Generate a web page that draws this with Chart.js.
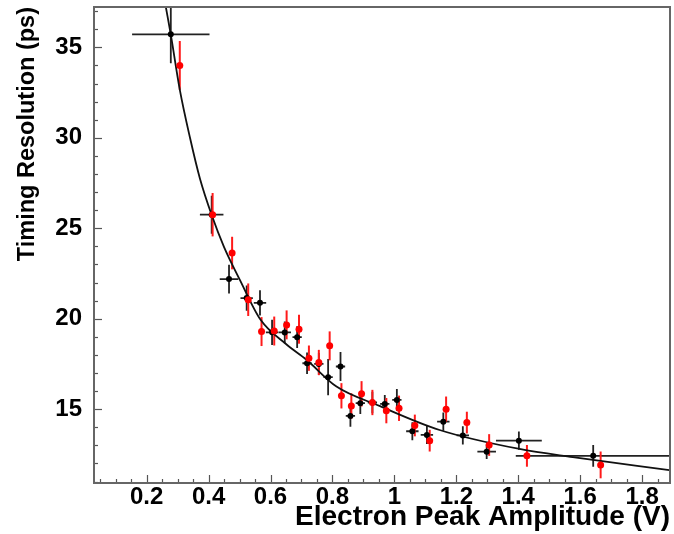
<!DOCTYPE html>
<html><head><meta charset="utf-8">
<script src="https://cdn.jsdelivr.net/npm/chart.js@4/dist/chart.umd.min.js"></script>
<style>html,body{margin:0;padding:0;background:#fff;}#wrap{width:674px;height:534px;}</style>
</head><body><div id="wrap"><canvas id="c" width="674" height="534"></canvas></div>
<script>
// ---- data ----
const blackX    = [0.278, 0.410, 0.466, 0.523, 0.566, 0.605, 0.646, 0.686, 0.718, 0.756, 0.786, 0.826, 0.858, 0.890, 0.929, 0.969, 1.008, 1.058, 1.105, 1.158, 1.221, 1.298, 1.402, 1.642];
const blackY    = [35.72, 25.75, 22.19, 21.14, 20.88, 19.25, 19.24, 18.98, 17.54, 17.50, 16.77, 17.36, 14.63, 15.33, 15.37, 15.29, 15.51, 13.78, 13.58, 14.31, 13.55, 12.65, 13.26, 12.42];
const blackXErr = [0.125, 0.038, 0.030, 0.020, 0.020, 0.020, 0.020, 0.015, 0.015, 0.015, 0.015, 0.015, 0.015, 0.015, 0.015, 0.015, 0.015, 0.020, 0.020, 0.020, 0.020, 0.030, 0.074, 0.250];
const blackYErr = [1.60, 1.05, 0.80, 0.70, 0.70, 0.70, 0.60, 0.60, 0.60, 0.60, 1.00, 0.80, 0.60, 0.60, 0.60, 0.50, 0.60, 0.50, 0.50, 0.50, 0.50, 0.40, 0.50, 0.60];

const redX    = [0.307, 0.413, 0.476, 0.528, 0.571, 0.612, 0.652, 0.692, 0.724, 0.756, 0.791, 0.829, 0.861, 0.894, 0.929, 0.974, 1.015, 1.066, 1.114, 1.167, 1.234, 1.306, 1.428, 1.666];
const redY    = [34.00, 25.75, 23.63, 21.05, 19.29, 19.32, 19.66, 19.42, 17.82, 17.58, 18.50, 15.74, 15.18, 15.85, 15.37, 14.92, 15.05, 14.10, 13.26, 15.00, 14.26, 13.02, 12.42, 11.92];
const redYErr = [1.35, 1.20, 0.90, 0.90, 0.80, 0.80, 0.80, 0.80, 0.70, 0.70, 0.80, 0.70, 0.70, 0.70, 0.70, 0.70, 0.70, 0.60, 0.60, 0.70, 0.60, 0.60, 0.60, 0.74];

const fitX = [0.262, 0.278, 0.307, 0.340, 0.372, 0.410, 0.450, 0.501, 0.568, 0.650, 0.716, 0.813, 0.952, 1.146, 1.404, 1.576, 1.888];
const fitY = [37.23, 35.70, 32.66, 30.00, 27.75, 25.73, 23.96, 22.15, 19.94, 18.60, 17.73, 16.25, 15.18, 13.85, 12.80, 12.35, 11.63];

const xTickValues = [0.2, 0.4, 0.6, 0.8, 1.0, 1.2, 1.4, 1.6, 1.8];
const xTickLabels = ['0.2', '0.4', '0.6', '0.8', '1', '1.2', '1.4', '1.6', '1.8'];
const yTickValues = [15, 20, 25, 30, 35];
const yTickLabels = ['15', '20', '25', '30', '35'];

const xTitle = 'Electron Peak Amplitude (V)';
const yTitle = 'Timing Resolution (ps)';

// ---- build datasets ----
const toPts = (xs, ys) => xs.map((x, i) => ({x: x, y: ys[i]}));

const errorBars = {
  id: 'errorBars',
  beforeDatasetsDraw(chart) {
    const {ctx, chartArea: a, scales: {x, y}} = chart;
    ctx.save();
    ctx.beginPath(); ctx.rect(a.left, a.top, a.right - a.left, a.bottom - a.top); ctx.clip();
    const draw = (xs, ys, xe, ye, color, w) => {
      ctx.strokeStyle = color; ctx.lineWidth = w;
      xs.forEach((xv, i) => {
        const px = x.getPixelForValue(xv), py = y.getPixelForValue(ys[i]);
        ctx.beginPath();
        if (ye) { ctx.moveTo(px, y.getPixelForValue(ys[i] + ye[i])); ctx.lineTo(px, y.getPixelForValue(ys[i] - ye[i])); }
        if (xe) { ctx.moveTo(x.getPixelForValue(xv - xe[i]), py); ctx.lineTo(x.getPixelForValue(xv + xe[i]), py); }
        ctx.stroke();
      });
    };
    draw(blackX, blackY, blackXErr, blackYErr, '#222', 1.8);
    draw(redX, redY, null, redYErr, '#ff1a1a', 2);
    ctx.restore();
  }
};

const frameTicks = {
  id: 'frameTicks',
  afterDraw(chart) {
    const {ctx, chartArea: a, scales: {x, y}} = chart;
    ctx.save();
    ctx.strokeStyle = '#555'; ctx.lineWidth = 1.2;
    for (let v = Math.ceil(y.min); v <= y.max; v += 1) {
      const py = Math.round(y.getPixelForValue(v)) + 0.5;
      const len = yTickValues.includes(v) ? 8 : 4;
      ctx.beginPath(); ctx.moveTo(a.left, py); ctx.lineTo(a.left + len, py); ctx.stroke();
    }
    for (let k = Math.ceil(x.min / 0.05); k * 0.05 <= x.max + 1e-9; k++) {
      const v = k * 0.05;
      const px = Math.round(x.getPixelForValue(v)) + 0.5;
      const major = Math.abs(v / 0.2 - Math.round(v / 0.2)) < 1e-6;
      const len = major ? 8 : 4;
      ctx.beginPath(); ctx.moveTo(px, a.bottom); ctx.lineTo(px, a.bottom - len); ctx.stroke();
    }
    ctx.strokeStyle = '#666'; ctx.lineWidth = 2;
    ctx.strokeRect(a.left, a.top, a.right - a.left, a.bottom - a.top);
    ctx.restore();
  }
};

const FAM = "'Liberation Sans', Arial, sans-serif";
const tickFont = {family: FAM, size: 24, weight: 'bold'};

new Chart(document.getElementById('c'), {
  type: 'scatter',
  data: {
    datasets: [
      {label: 'fit', data: toPts(fitX, fitY), showLine: true, borderColor: '#111', borderWidth: 1.8,
       pointRadius: 0, cubicInterpolationMode: 'monotone', fill: false, order: 3},
      {label: 'black', data: toPts(blackX, blackY), pointRadius: 3, pointBackgroundColor: '#000',
       pointBorderColor: '#000', pointBorderWidth: 0, order: 2},
      {label: 'red', data: toPts(redX, redY), pointRadius: 3.5, pointBackgroundColor: '#ff0000',
       pointBorderColor: '#ff0000', pointBorderWidth: 0, order: 1}
    ]
  },
  options: {
    responsive: false, animation: false, devicePixelRatio: 1,
    layout: {padding: {top: 7, right: 3, left: 0, bottom: 0}},
    plugins: {legend: {display: false}, tooltip: {enabled: false}},
    scales: {
      x: {
        type: 'linear', min: 0.03, max: 1.89,
        afterBuildTicks: s => { s.ticks = xTickValues.map(v => ({value: v})); },
        afterFit: s => { s.height = 51; s.paddingLeft = 0; s.paddingRight = 0; },
        grid: {display: false, drawTicks: false}, border: {display: false},
        ticks: {padding: 0, color: '#000', font: tickFont, maxRotation: 0, autoSkip: false,
                callback: (v, i) => xTickLabels[i]},
        title: {display: true, text: xTitle, align: 'end', color: '#000',
                font: {family: FAM, size: 28, weight: 'bold'},
                padding: {top: 0, bottom: 0}}
      },
      y: {
        type: 'linear', min: 10.92, max: 37.23,
        afterBuildTicks: s => { s.ticks = yTickValues.map(v => ({value: v})); },
        afterFit: s => { s.width = 94; s.paddingTop = 0; s.paddingBottom = 0; },
        grid: {display: false, drawTicks: false}, border: {display: false},
        ticks: {padding: 12, color: '#000', font: tickFont, autoSkip: false,
                callback: (v, i) => yTickLabels[i]},
        title: {display: true, text: yTitle, align: 'end', color: '#000',
                font: {family: FAM, size: 23.5, weight: 'bold'},
                padding: {top: 13, bottom: 0}}
      }
    }
  },
  plugins: [errorBars, frameTicks]
});
</script>
</body></html>
